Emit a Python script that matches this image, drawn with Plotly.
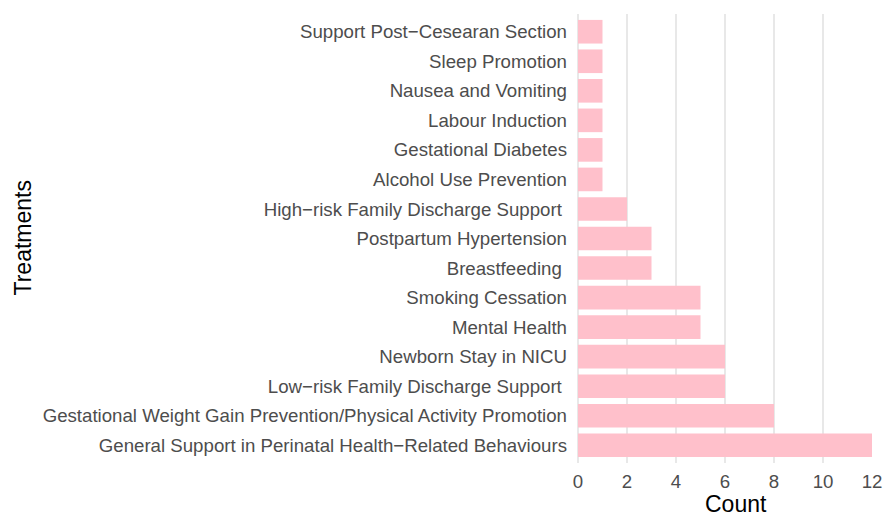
import plotly.graph_objects as go

# bottom-to-top order
treatments = [
    "General Support in Perinatal Health\u2212Related Behaviours",
    "Gestational Weight Gain Prevention/Physical Activity Promotion",
    "Low\u2212risk Family Discharge Support\u00a0",
    "Newborn Stay in NICU",
    "Mental Health",
    "Smoking Cessation",
    "Breastfeeding\u00a0",
    "Postpartum Hypertension",
    "High\u2212risk Family Discharge Support\u00a0",
    "Alcohol Use Prevention",
    "Gestational Diabetes",
    "Labour Induction",
    "Nausea and Vomiting",
    "Sleep Promotion",
    "Support Post\u2212Cesearan Section",
]
counts = [12, 8, 6, 6, 5, 5, 3, 3, 2, 1, 1, 1, 1, 1, 1]
x_ticks = [0, 2, 4, 6, 8, 10, 12]

fig = go.Figure(go.Bar(
    x=counts, y=treatments, orientation="h",
    marker=dict(color="#FFC0CB", line=dict(width=0)),
    width=0.8,
))

fig.update_layout(
    width=875, height=509,
    margin=dict(l=570, r=11, t=6, b=54),
    paper_bgcolor="white", plot_bgcolor="white",
    font=dict(family="Liberation Sans, Arial, sans-serif", size=18.67, color="#4d4d4d"),
    showlegend=False,
    bargap=0.2,
    annotations=[
        dict(
            text="Treatments", xref="paper", yref="paper", x=0, y=0.5,
            xanchor="center", yanchor="middle", xshift=-556, textangle=-90,
            showarrow=False, font=dict(size=23, color="black"),
        ),
        dict(
            text="Count", xref="paper", yref="paper", x=0.5, y=0,
            xanchor="center", yanchor="middle", xshift=11, yshift=-41,
            showarrow=False, font=dict(size=23, color="black"),
        ),
    ],
)
fig.update_xaxes(
    range=[0, 12], tickvals=x_ticks, showgrid=True, gridcolor="#e8e8e8", gridwidth=1.5,
    zeroline=True, zerolinecolor="#e8e8e8", zerolinewidth=1.5,
    showline=False, ticks="", ticklabelstandoff=5, automargin=False,
    tickfont=dict(size=18.67, color="#4d4d4d"),
)
fig.update_yaxes(
    range=[-0.6, 14.6], showgrid=False, zeroline=False, showline=False, ticks="",
    ticklabelstandoff=10, automargin=False,
    tickfont=dict(size=18.67, color="#4d4d4d"),
)
fig.write_html("out.html")
